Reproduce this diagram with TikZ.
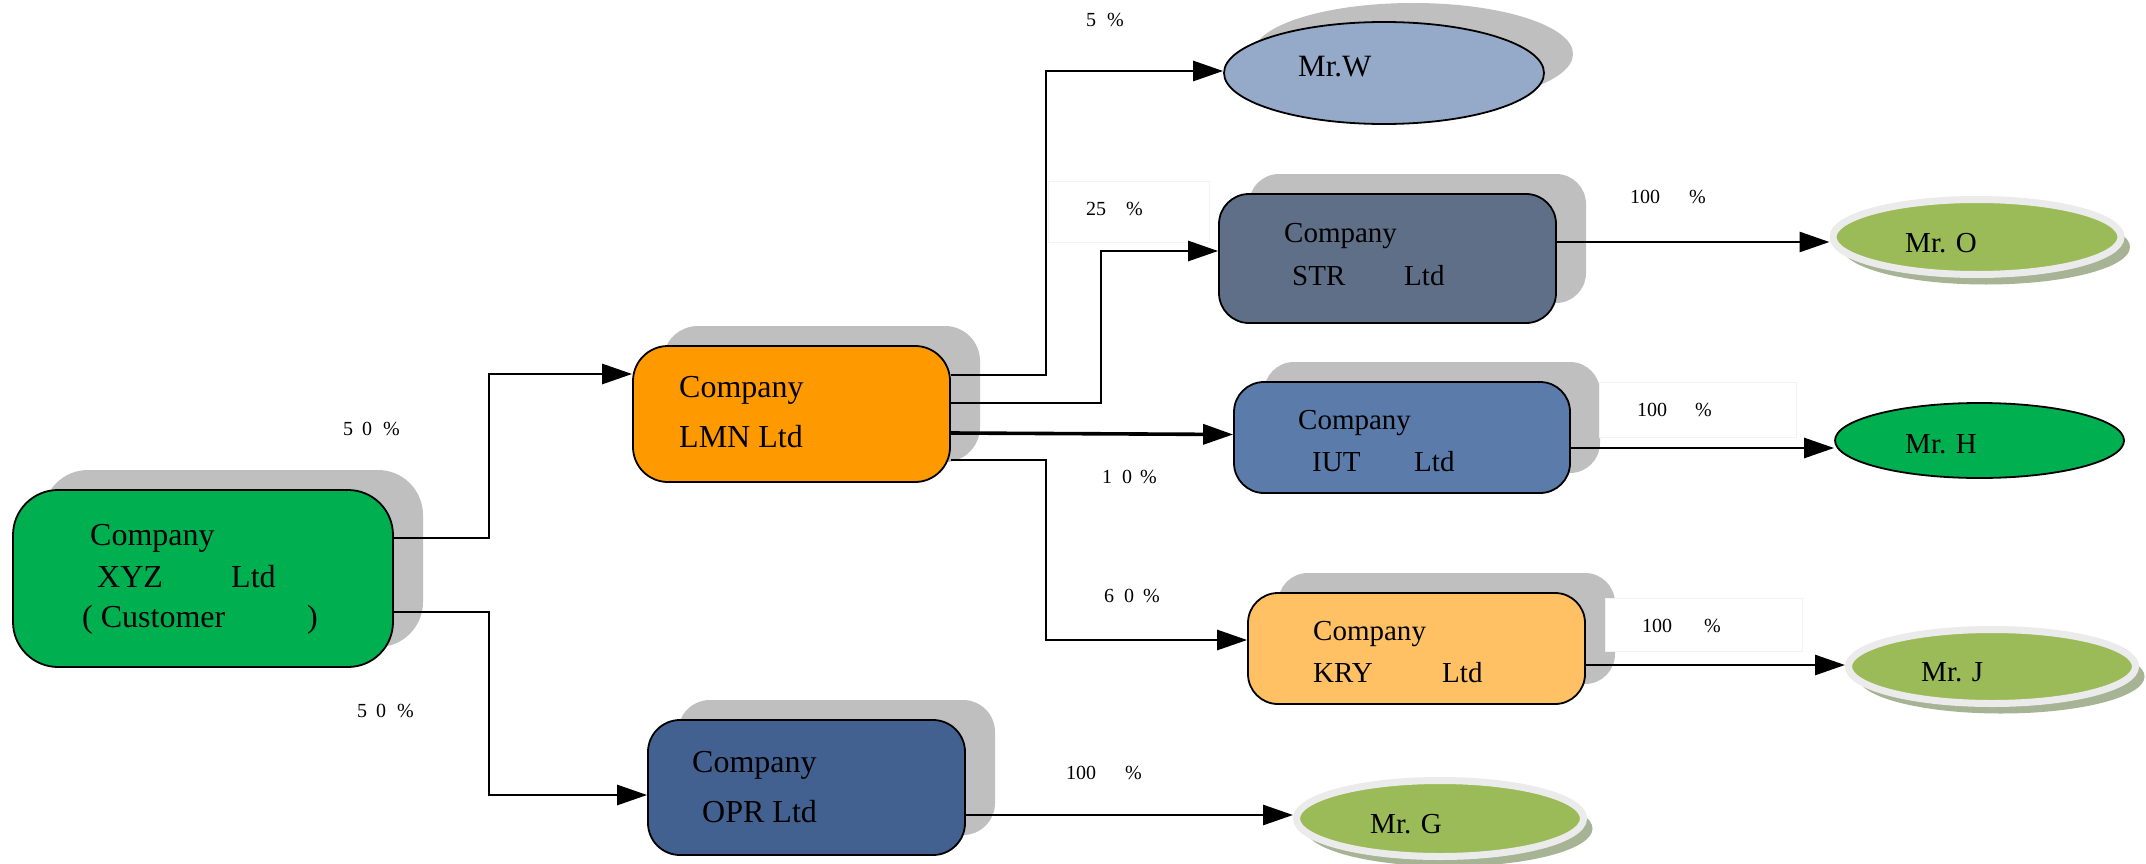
\documentclass[tikz,border=0pt]{standalone}
\usepackage{fontspec}
\setmainfont{Liberation Serif}
\usetikzlibrary{shapes.geometric,shadows,arrows.meta}
\definecolor{cXYZ}{HTML}{00B050}
\definecolor{cLMN}{HTML}{FF9900}
\definecolor{cSTR}{HTML}{5F6F87}
\definecolor{cIUT}{HTML}{5B7BAA}
\definecolor{cKRY}{HTML}{FFC164}
\definecolor{cOPR}{HTML}{426190}
\definecolor{cW}{HTML}{95A9C8}
\definecolor{cOlive}{HTML}{9BBB59}
\definecolor{ringgray}{HTML}{EBEBEB}
\definecolor{olivegray}{HTML}{A6B394}
\definecolor{shadowgray}{HTML}{BFBFBF}
\definecolor{faint}{HTML}{F3F3F3}
\begin{document}
\begin{tikzpicture}[x=1pt,y=-1pt,
  box/.style={rectangle, draw=black, line width=1.8pt, inner sep=0pt,
    general shadow={fill=shadowgray, shadow xshift=30pt, shadow yshift=20pt}},
  ring/.style={ellipse, fill=cOlive, draw=ringgray, line width=7pt, inner sep=0pt,
    general shadow={fill=olivegray, shadow xshift=9pt, shadow yshift=-10pt}},
  lbl/.style={rectangle, draw=faint, line width=1pt, fill=white, inner sep=0pt},
  nmL/.style={anchor=base west, inner sep=0pt, font=\fontsize{32}{38}\selectfont},
  nmS/.style={anchor=base west, inner sep=0pt, font=\fontsize{29}{35}\selectfont},
  pct/.style={anchor=base west, inner sep=0pt, font=\fontsize{20}{24}\selectfont},
  conn/.style={line width=2.8pt, -{Triangle[length=30pt,width=20pt]}}]
\fill[white] (0,0) rectangle (2146,864);
\useasboundingbox (0,0) rectangle (2146,864);

% company boxes
\node[box, fill=cXYZ, rounded corners=45pt, minimum width=380pt, minimum height=177pt] (XYZ) at (203,578.5) {};
\node[box, fill=cLMN, rounded corners=35pt, minimum width=317pt, minimum height=136pt] (LMN) at (791.5,414) {};
\node[box, fill=cSTR, rounded corners=30pt, minimum width=337pt, minimum height=129pt] (STR) at (1387.5,258.5) {};
\node[box, fill=cIUT, rounded corners=30pt, minimum width=336pt, minimum height=111pt] (IUT) at (1402,437.5) {};
\node[box, fill=cKRY, rounded corners=30pt, minimum width=337pt, minimum height=111pt] (KRY) at (1416.5,648.5) {};
\node[box, fill=cOPR, rounded corners=32pt, minimum width=317pt, minimum height=135pt] (OPR) at (806.5,787.5) {};

% persons
\node[ellipse, draw=black, line width=1.8pt, fill=cW, minimum width=320pt, minimum height=102pt, inner sep=0pt,
  general shadow={fill=shadowgray, shadow xshift=29pt, shadow yshift=19pt}] (MrW) at (1384,73) {};
\node[ellipse, draw=black, line width=1.8pt, fill=cXYZ, minimum width=289pt, minimum height=75pt, inner sep=0pt] (MrH) at (1979.5,440.5) {};
\node[ring, minimum width=288pt, minimum height=75pt] (MrO) at (1977,237) {};
\node[ring, minimum width=287pt, minimum height=74pt] (MrJ) at (1992,666.5) {};
\node[ring, minimum width=287pt, minimum height=76pt] (MrG) at (1440,818.5) {};

% label boxes
\node[lbl, minimum width=161pt, minimum height=61pt] (B25) at (1128.5,211.5) {};
\node[lbl, minimum width=197pt, minimum height=55pt] (BH) at (1697.5,409.5) {};
\node[lbl, minimum width=197pt, minimum height=53pt] (BJ) at (1703.5,624.5) {};

% box texts
\node[nmL] (tX1) at (90,545) {Company};
\node[nmL] (tX2) at (97,587) {XYZ};
\node[nmL] (tX3) at (231,587) {Ltd};
\node[nmL] (tX4) at (82,627) {( Customer};
\node[nmL] (tX5) at (307,627) {)};
\node[nmL] (tL1) at (679,397) {Company};
\node[nmL] (tL2) at (679,447) {LMN Ltd};
\node[nmS] (tS1) at (1284,242) {Company};
\node[nmS] (tS2) at (1292,285) {STR};
\node[nmS] (tS3) at (1404,285) {Ltd};
\node[nmS] (tI1) at (1298,429) {Company};
\node[nmS] (tI2) at (1312,471) {IUT};
\node[nmS] (tI3) at (1414,471) {Ltd};
\node[nmS] (tK1) at (1313,640) {Company};
\node[nmS] (tK2) at (1313,682) {KRY};
\node[nmS] (tK3) at (1442,682) {Ltd};
\node[nmL] (tP1) at (692,772) {Company};
\node[nmL] (tP2) at (702,822) {OPR Ltd};

% person texts
\node[anchor=base west, inner sep=0pt, font=\fontsize{31}{37}\selectfont] (tW) at (1298,77) {Mr.W};
\node[nmS] (tO) at (1905,252) {Mr. O};
\node[nmS] (tH) at (1905,453) {Mr. H};
\node[nmS] (tJ) at (1921,681) {Mr. J};
\node[nmS] (tG) at (1370,833) {Mr. G};

% percentages
\node[pct] (p50a) at (343,435) {5\hspace{9pt}0\hspace{11pt}\%};
\node[pct] (p50b) at (357,717) {5\hspace{9pt}0\hspace{11pt}\%};
\node[pct] (p5) at (1086,27) {5\hspace{11pt}\%};
\node[pct] (p25) at (1086,215) {25\hspace{20pt}\%};
\node[pct] (p10) at (1102,483) {1\hspace{10pt}0\hspace{8pt}\%};
\node[pct] (p60) at (1104,602) {6\hspace{10pt}0\hspace{9pt}\%};
\node[pct] (pO) at (1630,203) {100\hspace{29pt}\%};
\node[pct] (pH) at (1637,416) {100\hspace{28pt}\%};
\node[pct] (pJ) at (1642,632) {100\hspace{32pt}\%};
\node[pct] (pG) at (1066,779) {100\hspace{29pt}\%};

% connectors
\draw[conn] ([yshift=40.5pt]XYZ.east) -- ++(95,0) |- ([yshift=40pt]LMN.west);
\draw[conn] ([yshift=-33.5pt]XYZ.east) -- ++(95,0) |- ([yshift=-7.5pt]OPR.west);
\draw[conn] ([yshift=39pt]LMN.east) -- ++(95,0) |- ([yshift=2pt]MrW.west);
\draw[conn] ([yshift=11pt]LMN.east) -- ++(150,0) |- ([yshift=7.5pt]STR.west);
\draw[conn, line width=3.6pt] ([yshift=-19pt]LMN.east) -- ([yshift=3pt]IUT.west);
\draw[conn] ([yshift=-46pt]LMN.east) -- ++(95,0) |- ([yshift=8.5pt]KRY.west);
\coordinate (sO) at ([yshift=16.5pt]STR.east);
\coordinate (sH) at ([yshift=-10.5pt]IUT.east);
\coordinate (sJ) at ([yshift=-16.5pt]KRY.east);
\coordinate (sG) at ([yshift=-27.5pt]OPR.east);
\draw[conn] (sO) -- (sO -| MrO.west);
\draw[conn] (sH) -- (sH -| MrH.west);
\draw[conn] (sJ) -- (sJ -| MrJ.west);
\draw[conn] (sG) -- (sG -| MrG.west);
\end{tikzpicture}
\end{document}
